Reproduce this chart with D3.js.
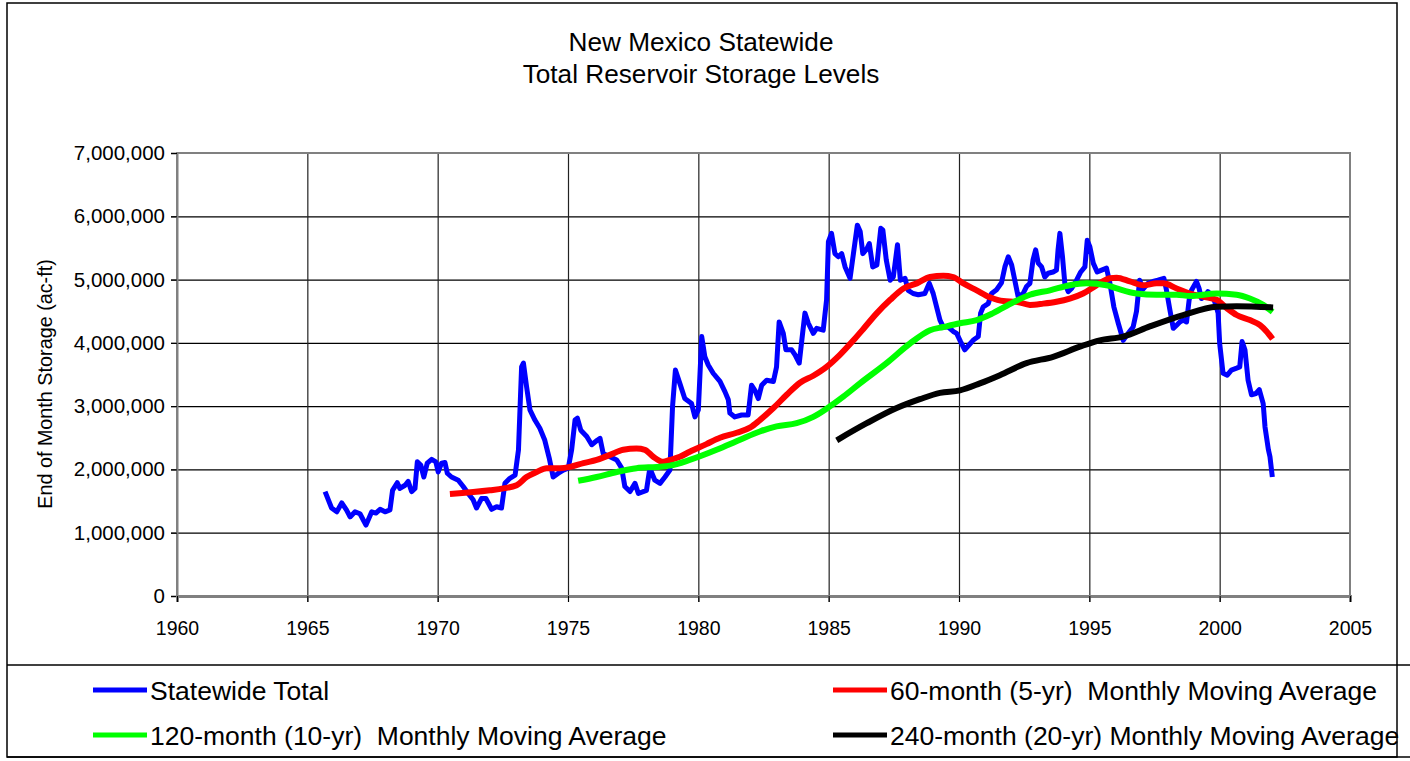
<!DOCTYPE html>
<html><head><meta charset="utf-8">
<script src="https://cdn.jsdelivr.net/npm/d3@7"></script>
<style>
html,body{margin:0;padding:0;background:#fff;}
svg{display:block;font-family:"Liberation Sans",Arial,sans-serif;}
</style></head>
<body>
<svg id="chart" width="1410" height="761"></svg>
<script>
// ---- data (year, storage in millions of ac-ft) ----
const statewideTotal = [
[1965.68,1.65],[1965.93,1.39],[1966.13,1.33],[1966.32,1.47],[1966.50,1.36],[1966.64,1.25],[1966.83,1.33],[1967.02,1.30],[1967.25,1.12],[1967.47,1.33],[1967.63,1.31],[1967.79,1.37],[1967.98,1.33],[1968.17,1.36],[1968.27,1.67],[1968.45,1.79],[1968.55,1.70],[1968.75,1.75],[1968.87,1.81],[1969.00,1.65],[1969.13,1.70],[1969.22,2.12],[1969.35,2.07],[1969.47,1.88],[1969.60,2.10],[1969.77,2.16],[1969.93,2.12],[1970.02,1.96],[1970.15,2.10],[1970.28,2.11],[1970.37,1.94],[1970.53,1.88],[1970.79,1.83],[1970.98,1.73],[1971.17,1.62],[1971.36,1.52],[1971.49,1.39],[1971.68,1.54],[1971.85,1.54],[1972.07,1.37],[1972.26,1.41],[1972.45,1.39],[1972.58,1.78],[1972.77,1.86],[1972.97,1.91],[1973.10,2.31],[1973.22,3.62],[1973.29,3.68],[1973.41,3.31],[1973.54,2.94],[1973.73,2.78],[1973.92,2.65],[1974.11,2.46],[1974.28,2.18],[1974.43,1.88],[1974.63,1.94],[1974.82,1.99],[1975.01,2.02],[1975.14,2.31],[1975.27,2.78],[1975.36,2.81],[1975.49,2.62],[1975.72,2.52],[1975.91,2.39],[1976.12,2.46],[1976.23,2.49],[1976.35,2.25],[1976.61,2.20],[1976.87,2.15],[1977.06,2.02],[1977.18,1.73],[1977.38,1.65],[1977.57,1.78],[1977.70,1.62],[1978.01,1.67],[1978.14,2.02],[1978.33,1.83],[1978.53,1.78],[1978.72,1.88],[1978.91,1.99],[1979.01,2.99],[1979.12,3.57],[1979.29,3.36],[1979.48,3.12],[1979.74,3.04],[1979.87,2.83],[1980.00,2.94],[1980.13,4.10],[1980.25,3.78],[1980.38,3.65],[1980.57,3.52],[1980.83,3.39],[1981.02,3.23],[1981.15,3.10],[1981.21,2.89],[1981.40,2.83],[1981.66,2.86],[1981.91,2.86],[1982.04,3.33],[1982.17,3.25],[1982.30,3.12],[1982.43,3.33],[1982.62,3.41],[1982.88,3.39],[1983.00,3.62],[1983.10,4.33],[1983.26,4.15],[1983.36,3.89],[1983.58,3.89],[1983.71,3.81],[1983.87,3.68],[1984.00,4.15],[1984.09,4.47],[1984.22,4.31],[1984.41,4.15],[1984.54,4.23],[1984.79,4.20],[1984.92,4.68],[1984.99,5.60],[1985.11,5.73],[1985.24,5.41],[1985.37,5.36],[1985.50,5.41],[1985.63,5.20],[1985.82,5.02],[1985.95,5.41],[1986.10,5.86],[1986.21,5.76],[1986.31,5.41],[1986.47,5.49],[1986.56,5.57],[1986.69,5.20],[1986.85,5.23],[1987.00,5.81],[1987.08,5.78],[1987.21,5.31],[1987.36,4.99],[1987.48,5.04],[1987.64,5.55],[1987.75,4.99],[1987.93,5.02],[1988.05,4.83],[1988.24,4.78],[1988.44,4.76],[1988.69,4.78],[1988.86,4.94],[1989.01,4.78],[1989.14,4.57],[1989.27,4.36],[1989.40,4.25],[1989.59,4.25],[1989.78,4.18],[1989.91,4.15],[1990.06,4.02],[1990.22,3.89],[1990.39,3.97],[1990.54,4.04],[1990.74,4.10],[1990.83,4.47],[1990.93,4.57],[1991.12,4.62],[1991.25,4.78],[1991.44,4.84],[1991.63,4.95],[1991.76,5.20],[1991.89,5.36],[1992.02,5.23],[1992.14,4.99],[1992.27,4.73],[1992.46,4.78],[1992.59,4.89],[1992.72,4.94],[1992.84,5.31],[1992.94,5.47],[1993.04,5.26],[1993.17,5.20],[1993.29,5.04],[1993.42,5.10],[1993.61,5.12],[1993.74,5.15],[1993.80,5.47],[1993.87,5.73],[1993.97,5.36],[1994.06,4.94],[1994.19,4.81],[1994.32,4.86],[1994.51,4.99],[1994.67,5.12],[1994.83,5.20],[1994.92,5.62],[1995.02,5.52],[1995.15,5.26],[1995.30,5.12],[1995.47,5.15],[1995.66,5.18],[1995.79,4.94],[1995.94,4.57],[1996.11,4.31],[1996.30,4.04],[1996.49,4.15],[1996.68,4.25],[1996.81,4.50],[1996.93,4.99],[1997.06,4.85],[1997.25,4.94],[1997.44,4.97],[1997.63,4.99],[1997.86,5.02],[1997.96,4.83],[1998.09,4.52],[1998.22,4.23],[1998.35,4.28],[1998.47,4.33],[1998.60,4.36],[1998.73,4.33],[1998.83,4.68],[1998.92,4.83],[1999.11,4.97],[1999.21,4.86],[1999.30,4.70],[1999.43,4.73],[1999.55,4.81],[1999.68,4.76],[1999.81,4.65],[1999.94,4.47],[2000.00,3.99],[2000.13,3.52],[2000.29,3.49],[2000.45,3.57],[2000.65,3.60],[2000.77,3.62],[2000.86,4.02],[2000.97,3.89],[2001.09,3.41],[2001.22,3.18],[2001.39,3.20],[2001.52,3.26],[2001.67,3.04],[2001.74,2.67],[2001.87,2.31],[2001.93,2.20],[2002.02,1.88]
];
const ma60 = [
[1970.47,1.61],[1972.00,1.67],[1972.52,1.70],[1973.03,1.75],[1973.41,1.88],[1973.80,1.96],[1974.18,2.02],[1974.69,2.02],[1975.08,2.04],[1975.59,2.10],[1976.10,2.15],[1976.61,2.23],[1977.12,2.31],[1977.63,2.33],[1977.95,2.31],[1978.27,2.20],[1978.65,2.12],[1978.91,2.15],[1979.29,2.20],[1979.67,2.28],[1980.31,2.40],[1980.83,2.50],[1981.47,2.58],[1981.98,2.66],[1982.36,2.78],[1982.88,2.97],[1983.39,3.18],[1983.90,3.37],[1984.41,3.48],[1984.92,3.62],[1985.43,3.81],[1985.95,4.04],[1986.33,4.22],[1986.85,4.47],[1987.36,4.68],[1987.87,4.86],[1988.38,4.94],[1988.89,5.04],[1989.40,5.06],[1989.78,5.04],[1990.17,4.94],[1990.68,4.83],[1991.19,4.72],[1991.70,4.66],[1992.20,4.65],[1992.72,4.60],[1993.23,4.62],[1993.74,4.65],[1994.25,4.70],[1994.76,4.78],[1995.27,4.91],[1995.79,5.02],[1996.05,5.03],[1996.56,4.97],[1997.07,4.91],[1997.58,4.94],[1997.84,4.94],[1998.35,4.86],[1998.86,4.78],[1999.37,4.73],[1999.88,4.68],[2000.27,4.55],[2000.65,4.44],[2001.16,4.36],[2001.55,4.28],[2001.80,4.18],[2002.03,4.06]
];
const ma120 = [
[1975.39,1.82],[1976.10,1.88],[1976.87,1.96],[1977.63,2.02],[1978.40,2.04],[1978.91,2.06],[1979.67,2.15],[1980.70,2.31],[1981.60,2.47],[1982.36,2.60],[1983.00,2.68],[1983.77,2.73],[1984.41,2.83],[1984.92,2.96],[1985.56,3.15],[1986.20,3.36],[1987.22,3.68],[1988.12,3.99],[1988.89,4.20],[1989.40,4.25],[1990.04,4.31],[1990.68,4.36],[1991.31,4.47],[1992.08,4.64],[1992.72,4.76],[1993.49,4.83],[1994.25,4.91],[1994.89,4.94],[1995.66,4.91],[1996.05,4.86],[1996.81,4.78],[1997.58,4.76],[1998.35,4.76],[1998.86,4.74],[1999.88,4.78],[2000.65,4.76],[2001.16,4.70],[2001.67,4.60],[2002.03,4.49]
];
const ma240 = [
[1985.31,2.46],[1986.46,2.73],[1987.61,2.97],[1988.50,3.11],[1989.27,3.21],[1990.04,3.25],[1990.80,3.36],[1991.57,3.49],[1992.59,3.68],[1993.61,3.78],[1994.64,3.94],[1995.40,4.04],[1996.30,4.10],[1997.32,4.26],[1998.60,4.44],[1999.88,4.57],[2000.65,4.58],[2002.05,4.56]
];
const yearTicks = [1960,1965,1970,1975,1980,1985,1990,1995,2000,2005];
const storageTicks = [0,1000000,2000000,3000000,4000000,5000000,6000000,7000000];
const titleLines = ["New Mexico Statewide","Total Reservoir Storage Levels"];
const yAxisTitle = "End of Month Storage (ac-ft)";
const seriesNames = ["Statewide Total","60-month (5-yr)  Monthly Moving Average","120-month (10-yr)  Monthly Moving Average","240-month (20-yr) Monthly Moving Average"];
const seriesColors = ["#0000ff","#ff0000","#00ff00","#000000"];

// ---- drawing ----
const svg = d3.select("#chart");
const plot = {left:177, right:1350, top:153, bottom:596};
const x = d3.scaleLinear().domain([1960,2005]).range([plot.left, plot.right]);
const y = d3.scaleLinear().domain([0,7000000]).range([plot.bottom, plot.top]);

// outer border
svg.append("rect").attr("x",7).attr("y",3).attr("width",1390).attr("height",754)
  .attr("fill","#fff").attr("stroke","#000").attr("stroke-width",1.5);

// title
svg.selectAll("text.title").data(titleLines).join("text")
  .attr("class","title").attr("x",701).attr("y",(d,i)=>42+i*32)
  .attr("dy","0.36em").attr("text-anchor","middle")
  .attr("font-size",26.2).attr("fill","#000").text(d=>d);

// gridlines
const grid = svg.append("g");
grid.selectAll("line.h").data(storageTicks.slice(1)).join("line")
  .attr("x1",plot.left-6).attr("x2",plot.right)
  .attr("y1",d=>y(d)+0.5).attr("y2",d=>y(d)+0.5)
  .attr("stroke","#000").attr("stroke-width",1.2);
grid.selectAll("line.v").data(yearTicks.slice(1,-1)).join("line")
  .attr("x1",d=>x(d)+0.5).attr("x2",d=>x(d)+0.5)
  .attr("y1",plot.top).attr("y2",plot.bottom+6)
  .attr("stroke","#222").attr("stroke-width",1.2);

// plot frame
svg.append("rect").attr("x",plot.left).attr("y",plot.top)
  .attr("width",plot.right-plot.left).attr("height",plot.bottom-plot.top)
  .attr("fill","none").attr("stroke","#808080").attr("stroke-width",2);

// axes
const yAxis = d3.axisLeft(y).tickValues(storageTicks).tickSize(6).tickPadding(6)
  .tickFormat(d3.format(","));
const gy = svg.append("g").attr("transform",`translate(${plot.left},0)`).call(yAxis);
gy.select(".domain").attr("stroke","#808080").attr("stroke-width",2);
gy.selectAll(".tick line").attr("stroke","#000");
gy.selectAll(".tick text").attr("font-size",20.5).attr("font-family","Liberation Sans, Arial, sans-serif").attr("fill","#000");

const xAxis = d3.axisBottom(x).tickValues(yearTicks).tickSize(6).tickPadding(19)
  .tickFormat(d3.format("d"));
const gx = svg.append("g").attr("transform",`translate(0,${plot.bottom})`).call(xAxis);
gx.select(".domain").attr("stroke","#808080").attr("stroke-width",3);
gx.selectAll(".tick line").attr("stroke","#000");
gx.selectAll(".tick text").attr("font-size",19.5).attr("font-family","Liberation Sans, Arial, sans-serif").attr("fill","#000");

// y axis title
svg.append("text").attr("transform","translate(45,384) rotate(-90)")
  .attr("text-anchor","middle").attr("dy","0.36em").attr("font-size",19.8)
  .attr("fill","#000").text(yAxisTitle);

// series
const lineStraight = d3.line().x(d=>x(d[0])).y(d=>y(d[1]*1e6));
const lineSmooth = d3.line().x(d=>x(d[0])).y(d=>y(d[1]*1e6)).curve(d3.curveMonotoneX);
const series = [
  {data:statewideTotal, gen:lineStraight, w:5},
  {data:ma60, gen:lineSmooth, w:6},
  {data:ma120, gen:lineSmooth, w:6},
  {data:ma240, gen:lineSmooth, w:6}
];
svg.append("g").selectAll("path").data(series).join("path")
  .attr("d",d=>d.gen(d.data)).attr("fill","none")
  .attr("stroke",(d,i)=>seriesColors[i]).attr("stroke-width",d=>d.w)
  .attr("stroke-linejoin","round").attr("stroke-linecap","butt");

// legend
svg.append("line").attr("x1",7).attr("x2",1410).attr("y1",665).attr("y2",665).attr("stroke","#000").attr("stroke-width",1.5);
svg.append("line").attr("x1",7).attr("x2",1410).attr("y1",757).attr("y2",757).attr("stroke","#000").attr("stroke-width",1.5);
const legPos = [[93,690],[833,690],[93,735],[833,735]];
const leg = svg.append("g").selectAll("g").data(seriesNames).join("g")
  .attr("transform",(d,i)=>`translate(${legPos[i][0]},${legPos[i][1]})`);
leg.append("line").attr("x1",0).attr("x2",54).attr("y1",0).attr("y2",0)
  .attr("stroke",(d,i)=>seriesColors[i]).attr("stroke-width",5);
leg.append("text").attr("x",57).attr("dy","0.36em").attr("font-size",26.5)
  .attr("fill","#000").style("white-space","pre").text(d=>d);
</script>
</body></html>
